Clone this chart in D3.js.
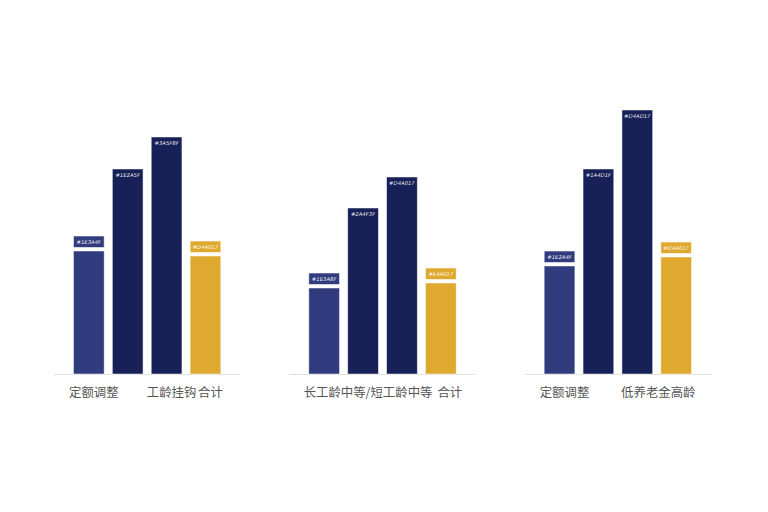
<!DOCTYPE html>
<html><head><meta charset="utf-8">
<script src="https://cdn.jsdelivr.net/npm/d3@7"></script>
<style>body{margin:0;background:#fff}svg{display:block}</style>
</head><body>
<svg id="c" width="768" height="512"></svg>
<script>
const panels = ["p1", "p2", "p3"];
const barKeys = ["a", "b", "c", "d"];
const values1 = [123, 205, 237, 118];
const values2 = [86, 166, 197, 91];
const values3 = [108, 205, 264, 117];
const barTags1 = ["#1E3A4F", "#1E2A5F", "#3A5F8F", "#D4A017"];
const barTags2 = ["#1E3A8F", "#2A4F3F", "#D4A017", "#E4A017"];
const barTags3 = ["#1E2A4F", "#1A4D1F", "#D4AD17", "#D4A017"];
const tickLabels1 = ["定额调整", "", "工龄挂钩", "合计"];
const tickLabels2 = ["", "长工龄中等/短工龄中等", "", "合计"];
const tickLabels3 = ["定额调整", "", "低养老金高龄", ""];
const barColors = ["#303c7e", "#172157", "#172157", "#dfa92f"];
const tagOutside = [true, false, false, true];

const panelData = [
  {id: "p1", values: values1, tags: barTags1, ticks: tickLabels1},
  {id: "p2", values: values2, tags: barTags2, ticks: tickLabels2},
  {id: "p3", values: values3, tags: barTags3, ticks: tickLabels3}
];

const svg = d3.select("#c");
const px = d3.scaleBand().domain(panels).range([54, 711]).paddingInner(0.2085);
const x = d3.scaleBand().domain(barKeys).range([0, px.bandwidth()]).paddingInner(0.21).paddingOuter(0.5);
const y = d3.scaleLinear().domain([0, 300]).range([374, 74]);

panelData.forEach(p => {
  const g = svg.append("g").attr("transform", `translate(${px(p.id)},0)`);
  g.append("line").attr("x1", 0).attr("x2", px.bandwidth()).attr("y1", y(0) + 0.5).attr("y2", y(0) + 0.5)
    .attr("stroke", "#e2e2e2").attr("stroke-width", 1);
  const bars = barKeys.map((k, i) => ({k, i, v: p.values[i], tag: p.tags[i], tick: p.ticks[i], prev: p.ticks[i - 1] || ""}));
  g.selectAll("rect.bar").data(bars).join("rect").attr("class", "bar")
    .attr("x", d => x(d.k)).attr("width", x.bandwidth())
    .attr("y", d => y(d.v)).attr("height", d => y(0) - y(d.v))
    .attr("fill", d => barColors[d.i]).attr("stroke", "#ffffff").attr("stroke-opacity", 0.6).attr("stroke-width", 0.8);
  g.selectAll("rect.tag").data(bars.filter(d => tagOutside[d.i])).join("rect").attr("class", "tag")
    .attr("x", d => x(d.k)).attr("width", x.bandwidth())
    .attr("y", d => y(d.v) - 15).attr("height", 11.5)
    .attr("fill", d => barColors[d.i]).attr("stroke", "#ffffff").attr("stroke-opacity", 0.7).attr("stroke-width", 0.8);
  g.selectAll("text.tag").data(bars).join("text").attr("class", "tag")
    .attr("x", d => x(d.k) + x.bandwidth() / 2)
    .attr("y", d => tagOutside[d.i] ? y(d.v) - 6.8 : y(d.v) + 8)
    .attr("text-anchor", "middle").attr("fill", "#fff").attr("fill-opacity", 0.92)
    .attr("font-family", "DejaVu Sans, sans-serif").attr("font-size", 5.3).attr("font-style", "italic")
    .text(d => d.tag);
  g.selectAll("text.tick").data(bars.filter(d => d.tick)).join("text").attr("class", "tick")
    .attr("x", d => {
      let c = x(d.k) + x.bandwidth() / 2 + 5;
      if (d.tick.length > 5 && d.tick.indexOf("/") < 0) c += 16;
      if (d.tick.length <= 2 && !d.prev) c += 4;
      return c;
    })
    .attr("y", 397).attr("text-anchor", "middle").attr("fill", "#555")
    .attr("font-family", "Noto Sans CJK SC, sans-serif").attr("font-size", 12.4)
    .text(d => d.tick);
});
</script>
</body></html>
